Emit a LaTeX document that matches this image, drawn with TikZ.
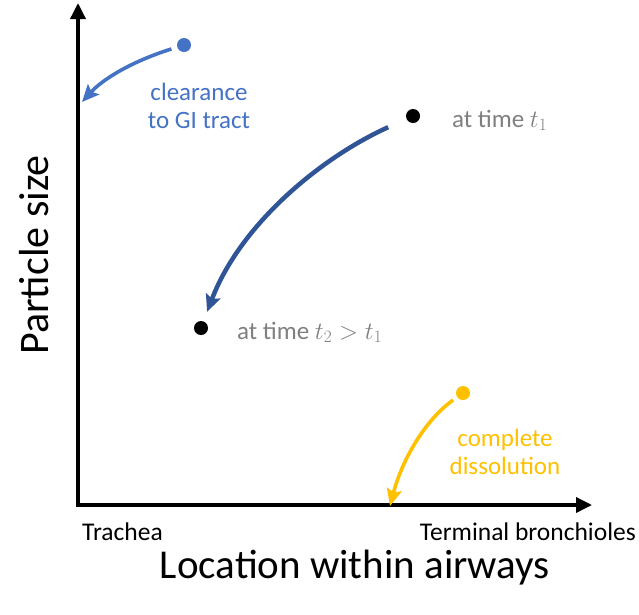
\documentclass[tikz,border=0pt]{standalone}
\usepackage{fontspec}
\setmainfont{Carlito}
\usetikzlibrary{arrows.meta}
\definecolor{clrblue}{HTML}{4472C4}
\definecolor{pathblue}{HTML}{2F5597}
\definecolor{dissgold}{HTML}{FFC000}
\definecolor{timegray}{HTML}{7F7F7F}
\tikzset{
	dot/.style={circle,fill,inner sep=0pt,minimum size=14pt},
	axis/.style={line width=3.5pt,-{Triangle[length=16pt,width=15pt]}},
	move/.style={line width=3.6pt,-{Stealth[length=17pt,width=15pt,inset=3pt]}},
	lbl/.style={font=\fontsize{25}{28}\selectfont},
}
\begin{document}
\begin{tikzpicture}[x=1pt,y=-1pt]
			\useasboundingbox (0,0) rectangle (639,614);
			\coordinate (O) at (78,505);
			\coordinate (ytop) at (78,3);
			\coordinate (xend) at (592,505);
			\draw[axis] (O|-xend) ++(0,1.75) -- (ytop);
			\draw[axis] ([xshift=-1.75pt]O) -- (xend);
			\path
			(48,255) node[rotate=90,anchor=base,font=\fontsize{42}{48}\selectfont] (ylab) {Particle size}
			(355,578) node[anchor=base,font=\fontsize{41}{48}\selectfont] (xlab) {Location within airways}
			(82,540) node[anchor=base west,inner sep=0pt,font=\fontsize{25.5}{28}\selectfont] (trach) {Trachea}
			(636,540) node[anchor=base east,inner sep=0pt,font=\fontsize{25.5}{28}\selectfont] (term) {Terminal bronchioles}
			;
			% clearance
			\node[dot,clrblue] (bdot) at (184,45) {};
			\coordinate (bend) at (82,102);
			\node[lbl,clrblue,align=center] (clr) at (199,106) {clearance\\to GI tract};
			\draw[move,clrblue,shorten <=6pt] (bdot) .. controls (130,62) and (102,80) .. (bend);
			% dissolution over time
			\node[dot] (t1dot) at (413,116) {};
			\node[dot] (t2dot) at (201,328) {};
			\node[lbl,timegray,anchor=base west,inner sep=0pt] (t1lab) at (452,127) {at time $t_1$};
			\node[lbl,timegray,anchor=base west,inner sep=0pt] (t2lab) at (237,339) {at time $t_2>t_1$};
			\draw[move,pathblue,line width=4.5pt,shorten <=20pt,shorten >=10pt] (t1dot) .. controls (320,158) and (240,225) .. (t2dot);
			% complete dissolution
			\node[dot,dissgold] (ydot) at (463,393) {};
			\coordinate (yend) at (390,506);
			\node[lbl,dissgold,align=center] (diss) at (505,452) {complete\\dissolution};
			\draw[move,dissgold,shorten <=5pt] (ydot) .. controls (425,420) and (402,460) .. (yend);
		\end{tikzpicture}
\end{document}
